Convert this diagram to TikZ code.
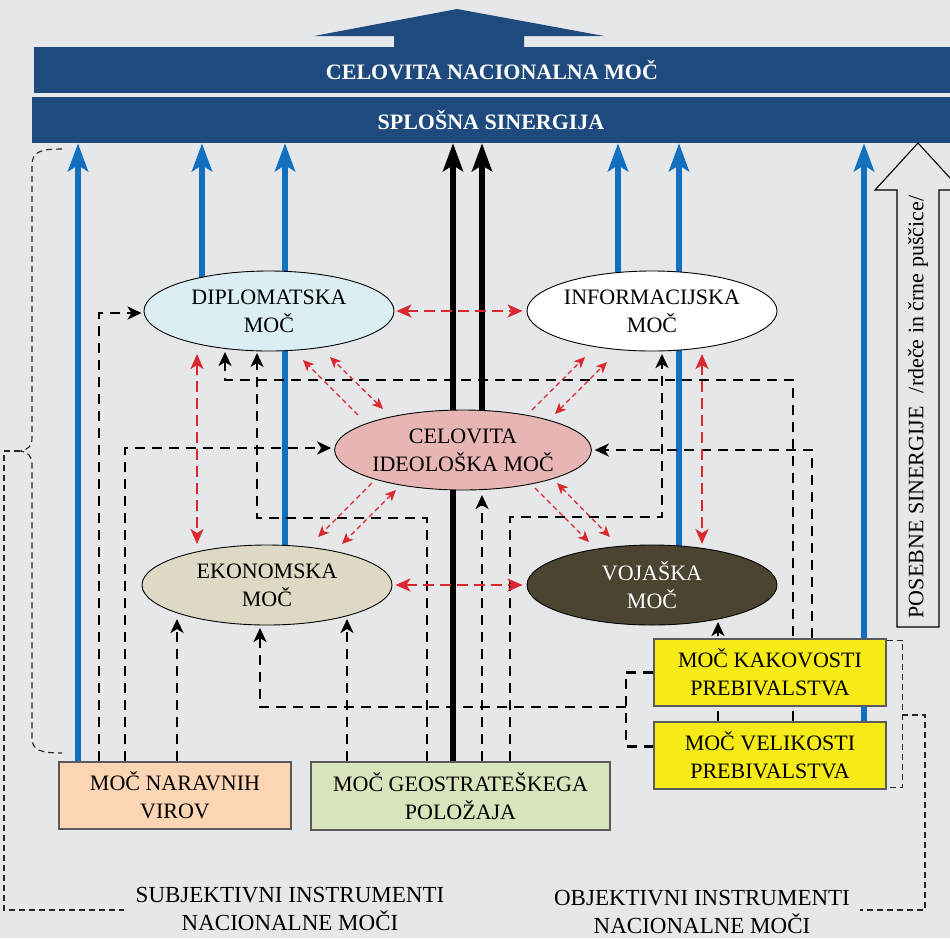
\documentclass[tikz,border=0pt]{standalone}
\usepackage{fontspec}
\setmainfont{Liberation Serif}
\usetikzlibrary{arrows.meta,shapes.geometric,calc}
\definecolor{bgc}{HTML}{E6E7E9}
\definecolor{banc}{HTML}{1F4A7E}
\definecolor{bluec}{HTML}{1370BE}
\definecolor{redc}{HTML}{DA282E}
\definecolor{dipc}{HTML}{DAEEF4}
\definecolor{celc}{HTML}{E8B5B5}
\definecolor{ekoc}{HTML}{DDD9C4}
\definecolor{vojc}{HTML}{4A4431}
\definecolor{narc}{HTML}{FCD5B5}
\definecolor{geoc}{HTML}{D8E4BC}
\definecolor{yelc}{HTML}{F6EB16}
\definecolor{boxgray}{HTML}{5A5A5A}
\pgfdeclarelayer{bglayer}
\pgfdeclarelayer{edgelayer}
\pgfsetlayers{bglayer,edgelayer,main}
\tikzset{
  txt/.style={font=\fontsize{22}{28}\selectfont, align=center},
  ell/.style={ellipse, draw=black, line width=0.9pt, minimum width=250pt, minimum height=80pt, inner sep=0pt, txt},
  boxs/.style={rectangle, draw=boxgray, line width=1.4pt, inner sep=0pt, txt},
  banner/.style={rectangle, fill=banc, inner sep=0pt, text=white, font=\bfseries\fontsize{22}{26}\selectfont},
  blu/.style={draw=bluec, line width=5.5pt, -{Stealth[length=28pt,width=20pt,inset=6pt]}},
  blk/.style={draw=black, line width=6pt, -{Stealth[length=28pt,width=20pt,inset=6pt]}},
  dline/.style={draw=black, line width=2.5pt, dash pattern=on 10pt off 7pt, -{Stealth[length=14pt,width=13pt,inset=4pt]}},
  dnone/.style={draw=black, line width=2.5pt, dash pattern=on 10pt off 7pt},
  rline/.style={draw=redc, line width=2.5pt, dash pattern=on 11pt off 6pt, {Stealth[length=15pt,width=13pt,inset=4pt]}-{Stealth[length=15pt,width=13pt,inset=4pt]}},
  rthin/.style={draw=redc, line width=1.3pt, dash pattern=on 5pt off 3.5pt, -{Stealth[length=11pt,width=10pt,inset=3pt]}},
  rthinb/.style={draw=redc, line width=1.3pt, dash pattern=on 5pt off 3.5pt, {Stealth[length=11pt,width=10pt,inset=3pt]}-{Stealth[length=11pt,width=10pt,inset=3pt]}},
  brk/.style={draw=black!85, line width=1.1pt, dash pattern=on 6pt off 4pt},
  lbl/.style={font=\fontsize{23}{28}\selectfont, align=center, inner sep=0pt}
}
\begin{document}
\begin{tikzpicture}[x=1pt,y=-1pt]
\useasboundingbox (0,0) rectangle (950,938);
\begin{pgfonlayer}{bglayer}
\fill[bgc] (0,0) rectangle (950,938);
\end{pgfonlayer}

% top arrow and banners
\fill[banc] (314,36) -- (457,9) -- (604,36) -- (524,36) -- (524,50) -- (394,50) -- (394,36) -- cycle;
\node[banner, minimum width=916pt, minimum height=46pt] (ban1) at (492,70) {CELOVITA NACIONALNA MOČ};
\node[banner, minimum width=918pt, minimum height=46pt] (ban2) at (491,120) {SPLOŠNA SINERGIJA};

% ellipses
\node[ell, fill=dipc] (dip) at (269,311) {DIPLOMATSKA\\MOČ};
\node[ell, fill=white] (inf) at (652,311) {INFORMACIJSKA\\MOČ};
\node[ell, fill=celc] (cel) at (463,450) {CELOVITA\\IDEOLOŠKA MOČ};
\node[ell, fill=ekoc] (eko) at (267,585) {EKONOMSKA\\MOČ};
\node[ell, fill=vojc, text=white] (voj) at (652,585) {VOJAŠKA\\MOČ};

% boxes
\node[boxs, fill=narc, minimum width=232pt, minimum height=67pt] (nar) at (175,795.5) {MOČ NARAVNIH\\VIROV};
\node[boxs, fill=geoc, minimum width=299pt, minimum height=68pt] (geo) at (460.5,796) {MOČ GEOSTRATEŠKEGA\\POLOŽAJA};
\node[boxs, fill=yelc, minimum width=232pt, minimum height=67pt] (kak) at (770,672.5) {MOČ KAKOVOSTI\\PREBIVALSTVA};
\node[boxs, fill=yelc, minimum width=232pt, minimum height=67pt] (vel) at (770,755.5) {MOČ VELIKOSTI\\PREBIVALSTVA};

\begin{pgfonlayer}{edgelayer}
% blue and black synergy arrows
\draw[blu] (78,0 |- nar.north) -- (78,0 |- ban2.south);
\draw[blu] (202,0 |- dip.center) -- (202,0 |- ban2.south);
\draw[blu] (285,0 |- eko.center) -- (285,0 |- ban2.south);
\draw[blu] (618,0 |- inf.center) -- (618,0 |- ban2.south);
\draw[blu] (679,0 |- voj.center) -- (679,0 |- ban2.south);
\draw[blu] (864,0 |- vel.center) -- (864,0 |- ban2.south);
\draw[blk] (453,0 |- geo.center) -- (453,0 |- ban2.south);
\draw[blk] (482,0 |- cel.center) -- (482,0 |- ban2.south);

% black dashed connectors
\draw[dline] (99,0 |- nar.north) |- ([xshift=-2pt,yshift=-2pt]dip.west);
\draw[dline] (125,0 |- nar.north) |- ([xshift=-3pt,yshift=2pt]cel.west);
\draw[dline] (177,0 |- nar.north) -- ($(eko.center)+(-90,34)$);
\draw[dline] (347,0 |- geo.north) -- ($(eko.center)+(80,34)$);
\draw[dline] (427,0 |- geo.north) |- (257,518) -- ($(dip.center)+(-12,42)$);
\draw[dline] (482,0 |- geo.north) -- ($(cel.center)+(19,45)$);
\draw[dline] (510,0 |- geo.north) |- (662,517) -- ($(inf.center)+(10,43)$);
\coordinate (velw) at ([yshift=9pt]vel.west);
\draw[dnone] (kak.west) -- (626,0 |- kak.west) -- (626,0 |- velw) -- (velw);
\coordinate (popj) at (626,707);
\draw[dline] (popj) -| ($(eko.center)+(-7,43)$);
\draw[dline] (718,0 |- vel.north) -- ($(voj.center)+(66,37)$);
\draw[dline] (793,0 |- vel.north) |- (225,380) -- ($(dip.center)+(-44,41)$);
\draw[dline] (812,0 |- kak.north) |- ([xshift=3pt]cel.east);

% red dashed connectors
\draw[rline] ([xshift=2pt]dip.east) -- ([xshift=-4pt]inf.west);
\draw[rline] ([xshift=3pt]eko.east) -- ([xshift=-4pt]voj.west);
\draw[rline] ($(dip.center)+(-72,43)$) -- ($(eko.center)+(-70,-41)$);
\draw[rline] ($(inf.center)+(50,43)$) -- ($(voj.center)+(50,-41)$);

% red thin diagonals
\draw[rthin]  ($(cel.center)+(-105,-35)$) -- ($(dip.center)+(34,49)$);
\draw[rthinb] ($(cel.center)+(-80,-41)$) -- ($(dip.center)+(61,46)$);
\draw[rthin]  ($(cel.center)+(69,-40)$) -- ($(inf.center)+(-67,46)$);
\draw[rthinb] ($(cel.center)+(92,-36)$) -- ($(inf.center)+(-45,51)$);
\draw[rthin]  ($(cel.center)+(72,38)$) -- ($(voj.center)+(-63,-43)$);
\draw[rthinb] ($(cel.center)+(94,33)$) -- ($(voj.center)+(-42,-48)$);
\draw[rthin]  ($(cel.center)+(-91,33)$) -- ($(eko.center)+(51,-48)$);
\draw[rthinb] ($(cel.center)+(-67,40)$) -- ($(eko.center)+(75,-41)$);
\end{pgfonlayer}

% hollow arrow with text
\draw[line width=1.1pt, fill=bgc] (897,627) -- (897,190) -- (875,190) -- (918,143) -- (961,190) -- (939,190) -- (939,627) -- cycle;
\node[txt, rotate=90, inner sep=0pt] (pos) at (918,407) {POSEBNE SINERGIJE\hspace{0.6em}/rdeče in črne puščice/};

% brackets
\draw[brk] (62,149) .. controls (40,149) and (32,152) .. (32,165) -- (32,438) .. controls (32,446) and (28,450) .. (20,451) .. controls (28,452) and (32,456) .. (32,464) -- (32,738) .. controls (32,750) and (40,753) .. (62,753);
\coordinate (lbt) at (20,451);
\node[lbl] (subj) at (290,909) {SUBJEKTIVNI INSTRUMENTI\\NACIONALNE MOČI};
\node[lbl] (obj) at (702,912) {OBJEKTIVNI INSTRUMENTI\\NACIONALNE MOČI};
\draw[brk] (lbt) -- (4,451) -- (4,910) -- (124,910);
\draw[brk] ([yshift=-2pt]kak.north east) -- ++(16,0) |- ([yshift=2pt]vel.south east);
\coordinate (rbm) at (902,715);
\draw[brk] (rbm) -- (925,715) -- (925,910) -- (860,910);
\end{tikzpicture}
\end{document}
